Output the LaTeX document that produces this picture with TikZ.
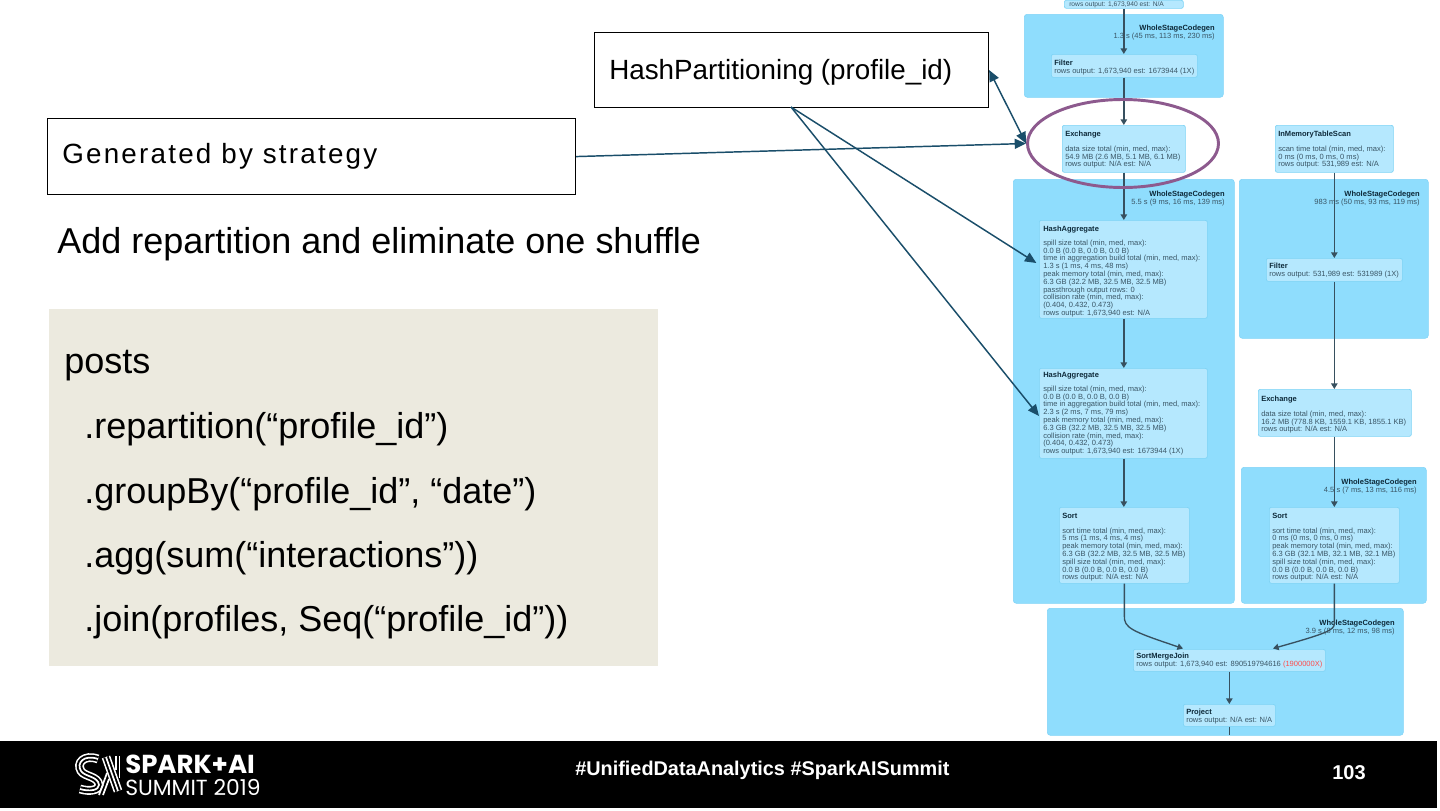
\documentclass[tikz,border=0pt]{standalone}
\usepackage{fontspec}
\setmainfont{Liberation Sans}
\newfontfamily\logofont{Poppins}
\usetikzlibrary{arrows.meta,shapes.geometric}
\definecolor{grp}{HTML}{8FDDFD}
\definecolor{grpe}{HTML}{7FD3F7}
\definecolor{nodef}{HTML}{B5E8FE}
\definecolor{nodee}{HTML}{7DD3F5}
\definecolor{small}{HTML}{3A5666}
\definecolor{smallb}{HTML}{0E2A3A}
\definecolor{edgec}{HTML}{37505F}
\definecolor{teal}{HTML}{1A4E6A}
\definecolor{purp}{HTML}{8D5A8E}
\definecolor{codebg}{HTML}{ECEADF}
\tikzset{
 x=0.75pt,y=-0.75pt,
 grpbox/.style={fill=grp,draw=grpe,line width=0.4pt,rounded corners=2.2pt,anchor=north west,inner sep=0pt,text width=0pt},
 opbox/.style={fill=nodef,draw=nodee,line width=0.5pt,rounded corners=1.5pt,anchor=north west,inner sep=0pt},
 optext/.style={anchor=north west,inner sep=0pt,align=left,text=small,font=\fontsize{5.65}{5.85}\selectfont},
 grptext/.style={anchor=north east,inner sep=0pt,align=right,text=small,font=\fontsize{5.65}{5.9}\selectfont},
 flow/.style={draw=edgec,line width=1pt,-{Triangle[length=4.2pt,width=4.8pt]}},
 callout/.style={draw=black,fill=white,line width=0.85pt,anchor=north west,inner sep=0pt},
 calltext/.style={anchor=west,inner sep=0pt,font=\fontsize{20.85}{24}\selectfont,text=black},
 codetext/.style={anchor=base west,inner sep=0pt,font=\fontsize{27}{30}\selectfont,text=black},
 pointer/.style={draw=teal,line width=1.1pt,-{Triangle[length=8.5pt,width=7.5pt]}},
 foot/.style={text=white,inner sep=0pt}
}
\newcommand{\gbox}[5]{\node[grpbox,minimum width={(#4-#2)*0.75pt},minimum height={(#5-#3)*0.75pt}] (#1) at (#2,#3) {};}
\newcommand{\obox}[5]{\node[opbox,minimum width={(#4-#2)*0.75pt},minimum height={(#5-#3)*0.75pt}] (#1) at (#2,#3) {};}
\newcommand{\ttl}[1]{{\color{smallb}\bfseries #1}}
\newcommand{\striped}[1]{\draw[white,line width=6.6pt] #1; \draw[black,line width=4.2pt] #1; \draw[white,line width=1.3pt] #1;}
\begin{document}
\begin{tikzpicture}
\useasboundingbox (0,0) rectangle (1440,811);
\fill[white] (0,0) rectangle (1440,811);
% groups
\gbox{gA}{1024}{14}{1223}{97}
\gbox{gB}{1013}{179}{1234}{603}
\gbox{gC}{1239}{179}{1428}{338}
\gbox{gD}{1241}{467}{1426}{603}
\gbox{gE}{1047}{608}{1403}{735}
% operators
\node[opbox,minimum width={119*0.75pt},minimum height={8*0.75pt}] (top) at (1064,0) {};
\node[optext,font=\fontsize{5}{5.85}\selectfont] (topt) at (1069,1) {rows output: 1,673,940 est: N/A};
\obox{filterA}{1051}{54}{1197}{77}
\obox{exchA}{1062}{125}{1185}{172}
\obox{scan}{1275}{125}{1393}{172}
\obox{hashA}{1039}{220}{1207}{318}
\obox{hashB}{1039}{368}{1207}{458}
\obox{filterB}{1266}{258}{1402}{281}
\obox{exchB}{1258}{389}{1411}{436}
\obox{sortA}{1059}{507}{1189}{583}
\obox{sortB}{1269}{507}{1399}{583}
\obox{smj}{1133}{649}{1325}{671}
\obox{proj}{1183}{704}{1275}{726}
\coordinate (projout) at (proj.south |- 0,735);
% operator text
\node[optext] (filterAt) at (1054,59.5) {\ttl{Filter}\\rows output: 1,673,940 est: 1673944 (1X)};
\node[optext] (exchAt) at (1065,130.5) {\ttl{Exchange}\\[5.5pt]data size total (min, med, max):\\54.9 MB (2.6 MB, 5.1 MB, 6.1 MB)\\rows output: N/A est: N/A};
\node[optext] (scant) at (1278,130.5) {\ttl{InMemoryTableScan}\\[5.5pt]scan time total (min, med, max):\\0 ms (0 ms, 0 ms, 0 ms)\\rows output: 531,989 est: N/A};
\node[optext] (hashAt) at (1043,225.5) {\ttl{HashAggregate}\\[4.7pt]spill size total (min, med, max):\\0.0 B (0.0 B, 0.0 B, 0.0 B)\\time in aggregation build total (min, med, max):\\1.3 s (1 ms, 4 ms, 48 ms)\\peak memory total (min, med, max):\\6.3 GB (32.2 MB, 32.5 MB, 32.5 MB)\\passthrough output rows: 0\\collision rate (min, med, max):\\(0.404, 0.432, 0.473)\\rows output: 1,673,940 est: N/A};
\node[optext] (hashBt) at (1043,371.5) {\ttl{HashAggregate}\\[4.7pt]spill size total (min, med, max):\\0.0 B (0.0 B, 0.0 B, 0.0 B)\\time in aggregation build total (min, med, max):\\2.3 s (2 ms, 7 ms, 79 ms)\\peak memory total (min, med, max):\\6.3 GB (32.2 MB, 32.5 MB, 32.5 MB)\\collision rate (min, med, max):\\(0.404, 0.432, 0.473)\\rows output: 1,673,940 est: 1673944 (1X)};
\node[optext] (filterBt) at (1269,262.5) {\ttl{Filter}\\rows output: 531,989 est: 531989 (1X)};
\node[optext] (exchBt) at (1261,395.5) {\ttl{Exchange}\\[5.5pt]data size total (min, med, max):\\16.2 MB (778.8 KB, 1559.1 KB, 1855.1 KB)\\rows output: N/A est: N/A};
\node[optext] (sortAt) at (1062,512.5) {\ttl{Sort}\\[5.5pt]sort time total (min, med, max):\\5 ms (1 ms, 4 ms, 4 ms)\\peak memory total (min, med, max):\\6.3 GB (32.2 MB, 32.5 MB, 32.5 MB)\\spill size total (min, med, max):\\0.0 B (0.0 B, 0.0 B, 0.0 B)\\rows output: N/A est: N/A};
\node[optext] (sortBt) at (1272,512.5) {\ttl{Sort}\\[5.5pt]sort time total (min, med, max):\\0 ms (0 ms, 0 ms, 0 ms)\\peak memory total (min, med, max):\\6.3 GB (32.1 MB, 32.1 MB, 32.1 MB)\\spill size total (min, med, max):\\0.0 B (0.0 B, 0.0 B, 0.0 B)\\rows output: N/A est: N/A};
\node[optext] (smjt) at (1136,653) {\ttl{SortMergeJoin}\\rows output: 1,673,940 est: 890519794616 {\color{red!70!white}(1900000X)}};
\node[optext] (projt) at (1186,708.5) {\ttl{Project}\\rows output: N/A est: N/A};
% group text
\node[grptext] (gAt) at (1215,24.5) {\ttl{WholeStageCodegen}\\1.3 s (45 ms, 113 ms, 230 ms)};
\node[grptext] (gBt) at (1225,190.5) {\ttl{WholeStageCodegen}\\5.5 s (9 ms, 16 ms, 139 ms)};
\node[grptext] (gCt) at (1420,190.5) {\ttl{WholeStageCodegen}\\983 ms (50 ms, 93 ms, 119 ms)};
\node[grptext] (gDt) at (1417,478.5) {\ttl{WholeStageCodegen}\\4.5 s (7 ms, 13 ms, 116 ms)};
\node[grptext] (gEt) at (1395,619.5) {\ttl{WholeStageCodegen}\\3.9 s (8 ms, 12 ms, 98 ms)};
% flow edges
\draw[flow] (top.south) -- (filterA.north -| top.south);
\draw[flow] (filterA.south -| top.south) -- (exchA.north -| top.south);
\draw[flow] (exchA.south -| top.south) -- (hashA.north -| top.south);
\draw[flow] (hashA.south -| top.south) -- (hashB.north -| top.south);
\draw[flow] (hashB.south -| top.south) -- (sortA.north -| top.south);
\draw[flow] (scan.south -| sortB.north) -- (filterB.north -| sortB.north);
\draw[flow] (filterB.south -| sortB.north) -- (exchB.north -| sortB.north);
\draw[flow] (exchB.south -| sortB.north) -- (sortB.north);
\draw[flow] (sortA.south) -- ++(0,32) .. controls (1124,628) and (1131,631) .. (1183,648.5);
\draw[flow] (sortB.south) -- ++(0,40) .. controls (1334,630) and (1328,633) .. (1273,648.5);
\draw[flow] (smj.south -| proj.north) -- (proj.north);
\draw[draw=edgec,line width=1pt] (proj.south) -- (projout);
% ellipse
\node[draw=purp,line width=2.2pt,ellipse,minimum width={191*0.75pt},minimum height={88*0.75pt},inner sep=0pt] (ring) at (1123,143.5) {};
% callouts
\node[callout,minimum width={394*0.75pt},minimum height={75*0.75pt}] (hashbox) at (594,32) {};
\node[calltext] (hashlabel) at (609,72) {HashPartitioning (profile\_id)};
\node[callout,minimum width={528*0.75pt},minimum height={76*0.75pt}] (genbox) at (47,118) {};
\node[calltext,font=\fontsize{20.85}{24}\selectfont\addfontfeatures{LetterSpace=8}] (genlabel) at (62,156) {Generated by strategy};
\draw[pointer] (genbox.east) -- (ring.west);
\draw[pointer,{Triangle[length=8.5pt,width=7.5pt]}-{Triangle[length=8.5pt,width=7.5pt]}] (hashbox.east) -- (ring.west);
\coordinate (hashfoot) at (791,107);
\draw[pointer] (hashfoot) -- ([xshift=-2pt]hashA.west |- 0,263);
\draw[pointer] (hashfoot) -- (hashB.west |- 0,416);
% plain text
\node[anchor=base west,inner sep=0pt,font=\fontsize{27}{30}\selectfont] (addlabel) at (57,253) {Add repartition and eliminate one shuffle};
% code
\node[fill=codebg,anchor=north west,inner sep=0pt,minimum width={609*0.75pt},minimum height={357*0.75pt}] (codebox) at (49,309) {};
\node[codetext] (c1) at (64,373) {posts};
\node[codetext] (c2) at (84,438) {.repartition(“profile\_id”)};
\node[codetext] (c3) at (84,503) {.groupBy(“profile\_id”, “date”)};
\node[codetext] (c4) at (84,567) {.agg(sum(“interactions”))};
\node[codetext] (c5) at (84,631) {.join(profiles, Seq(“profile\_id”))};
% footer
\fill[black] (0,741) rectangle (1437,808);
\node[foot,anchor=base west,font=\fontsize{14.9}{16}\selectfont\bfseries] (tags) at (575,775) {\#UnifiedDataAnalytics \#SparkAISummit};
\node[foot,anchor=base west,font=\fontsize{15}{16}\selectfont\bfseries] (pageno) at (1332,779) {103};
\node[foot,anchor=base west,font=\logofont\fontsize{19.5}{20}\selectfont\bfseries] (spark) at (125,773) {SPARK+AI};
\node[foot,anchor=base west,font=\logofont\fontsize{16.4}{20}\selectfont] (summit) at (125,795) {SUMMIT 2019};
% logo mark
\striped{(98,759) .. controls (84,754) and (76,763) .. (81,771) .. controls (85,777) and (98,776) .. (99,785) .. controls (99,790) and (90,792) .. (80,789)}
\striped{(106,757) -- (118,791)}
\draw[white,line width=1.3pt] (119.5,756) -- (119.5,778);
\draw[white,line width=1.3pt] (116,756) -- (116,770);
\draw[white,line width=1.3pt] (99,795) -- (107,773);
\draw[white,line width=1.3pt] (103,795) -- (109,779);
\end{tikzpicture}
\end{document}
